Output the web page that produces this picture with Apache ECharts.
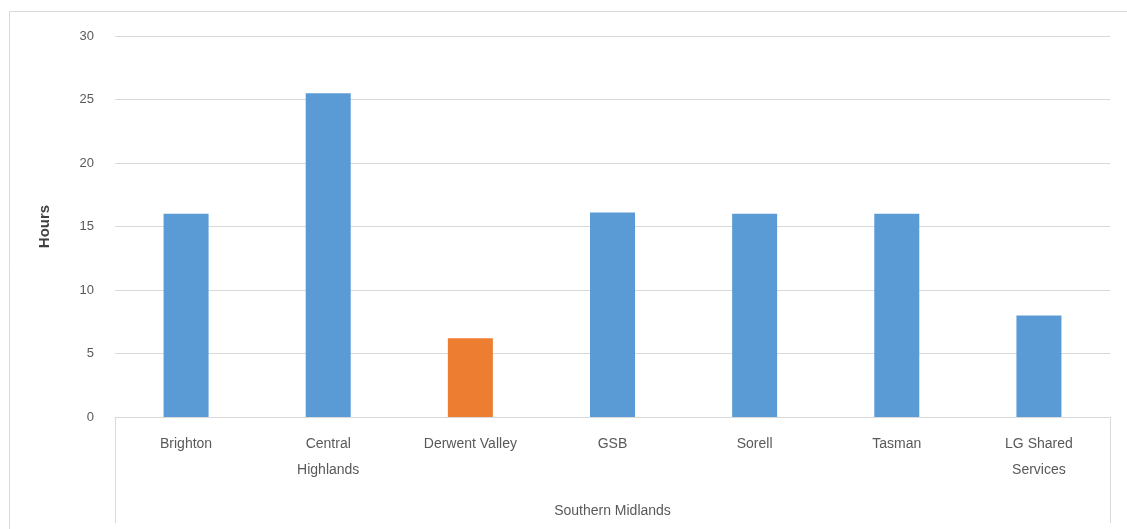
<!DOCTYPE html>
<html>
<head>
<meta charset="utf-8">
<title>Hours by council</title>
<script src="https://cdn.jsdelivr.net/npm/echarts@6/dist/echarts.min.js"></script>
<style>
  html, body { margin: 0; padding: 0; background: #ffffff; }
  #chart { width: 1127px; height: 529px; }
</style>
</head>
<body>
<div id="chart"></div>
<script>
// Councils on the category axis
const councils = ['Brighton', 'Central\nHighlands', 'Derwent Valley', 'GSB', 'Sorell', 'Tasman', 'LG Shared\nServices'];
// Hours per council
const hours = [16, 25.5, 6.2, 16.1, 16, 16, 8];
// Group label under the categories
const groupLabel = ['Southern Midlands'];
// Highlighted council (drawn in orange)
const highlighted = 'Derwent Valley';

const BLUE = '#5B9BD5';
const ORANGE = '#ED7D31';
const GRID_GREY = '#d9d9d9';
const TEXT_GREY = '#595959';
const FONT = 'Liberation Sans, Arial, sans-serif';

const chart = echarts.init(document.getElementById('chart'), null, { renderer: 'canvas' });

chart.setOption({
  animation: false,
  backgroundColor: '#ffffff',
  graphic: [{
    type: 'rect',
    silent: true,
    shape: { x: 9.5, y: 11.5, width: 1200, height: 600 },
    style: { fill: 'none', stroke: GRID_GREY, lineWidth: 1 }
  }],
  grid: { left: 115, right: 17, top: 36, bottom: 112, containLabel: false },
  xAxis: [{
    type: 'category',
    data: councils,
    position: 'bottom',
    axisLine: { show: true, lineStyle: { color: GRID_GREY, width: 1 } },
    axisTick: { show: false },
    axisLabel: {
      color: TEXT_GREY, fontFamily: FONT, fontSize: 14, lineHeight: 26,
      margin: 14, interval: 0
    }
  }, {
    type: 'category',
    data: groupLabel,
    position: 'bottom',
    axisLine: { show: false },
    axisTick: { show: true, length: 106, lineStyle: { color: GRID_GREY, width: 1 } },
    axisLabel: { color: TEXT_GREY, fontFamily: FONT, fontSize: 14, margin: 87 }
  }],
  yAxis: {
    type: 'value',
    min: 0, max: 30, interval: 5,
    name: 'Hours',
    nameLocation: 'middle',
    nameRotate: 90,
    nameGap: 63,
    nameTextStyle: { color: '#404040', fontFamily: FONT, fontSize: 15, fontWeight: 'bold' },
    axisLine: { show: false },
    axisTick: { show: false },
    axisLabel: { color: TEXT_GREY, fontFamily: FONT, fontSize: 13, margin: 21 },
    splitLine: { lineStyle: { color: GRID_GREY, width: 1 } }
  },
  series: [{
    type: 'bar',
    xAxisIndex: 0,
    barWidth: 45,
    data: hours.map((v, i) => ({
      value: v,
      itemStyle: { color: councils[i] === highlighted ? ORANGE : BLUE }
    }))
  }]
});
</script>
</body>
</html>
